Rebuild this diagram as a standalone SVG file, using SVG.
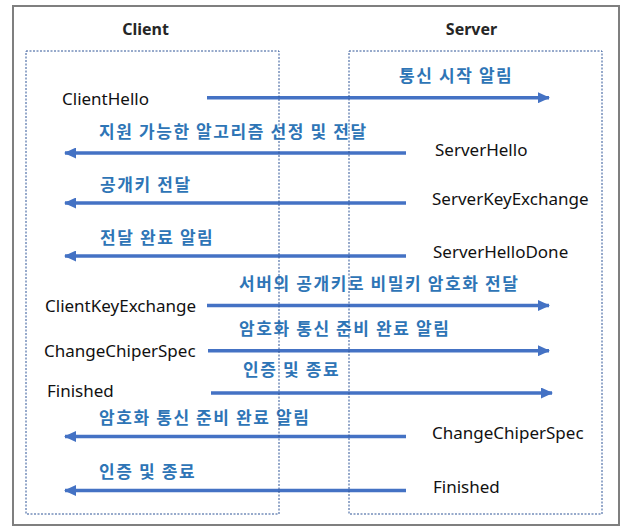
<svg xmlns="http://www.w3.org/2000/svg" width="634" height="530" viewBox="0 0 634 530">
<style>
.frame{fill:none;stroke:#7f7f7f;stroke-width:2}
.lane{fill:none;stroke:#2f5597;stroke-width:1;stroke-dasharray:2 1.5}
.hdr{font-family:"Noto Sans","Noto Sans CJK KR",sans-serif;font-size:16px;font-weight:bold;fill:#262626;text-anchor:middle}
.msg{font-family:"Noto Sans","Noto Sans CJK KR",sans-serif;font-size:17px;fill:#111111}
.lbl{font-family:"Noto Sans CJK KR","Noto Sans",sans-serif;font-size:17px;font-weight:bold;fill:#2e75b6;letter-spacing:1.6px}
.arr{fill:none;stroke:#4472c4;stroke-width:3.5;marker-end:url(#ah)}
</style>
<defs>
<marker id="ah" viewBox="0 0 12 11" refX="11" refY="5.5" markerWidth="12" markerHeight="11" markerUnits="userSpaceOnUse" orient="auto">
<path d="M0,0 L12,5.5 L0,11 Z" fill="#4472c4"/>
</marker>
</defs>
<rect width="634" height="530" fill="#ffffff"/>
<rect class="frame" x="13" y="6" width="606" height="519"/>
<g id="connectors">
<path class="arr" d="M207,97.7 H549"/>
<path class="arr" d="M406,153 H65"/>
<path class="arr" d="M406,203 H65"/>
<path class="arr" d="M406,256 H65"/>
<path class="arr" d="M207,305.5 H549"/>
<path class="arr" d="M208,350.7 H549"/>
<path class="arr" d="M211,393 H552"/>
<path class="arr" d="M406,436.5 H65"/>
<path class="arr" d="M406,490.5 H65"/>
<text class="lbl" x="399" y="81.5">통신 시작 알림</text>
<text class="lbl" x="99" y="138">지원 가능한 알고리즘 선정 및 전달</text>
<text class="lbl" x="100" y="190.5">공개키 전달</text>
<text class="lbl" x="100" y="243.5">전달 완료 알림</text>
<text class="lbl" x="239" y="290">서버의 공개키로 비밀키 암호화 전달</text>
<text class="lbl" x="239" y="335">암호화 통신 준비 완료 알림</text>
<text class="lbl" x="243" y="375.5">인증 및 종료</text>
<text class="lbl" x="99" y="424">암호화 통신 준비 완료 알림</text>
<text class="lbl" x="99" y="477.5">인증 및 종료</text>
</g>
<g id="client">
<text class="hdr" x="145.5" y="35">Client</text>
<rect class="lane" x="26" y="51" width="253" height="463"/>
</g>
<g id="server">
<text class="hdr" x="471.5" y="35">Server</text>
<rect class="lane" x="349" y="51" width="253" height="463"/>
</g>
<g id="client-hello"><text class="msg" x="62" y="105">ClientHello</text></g>
<g id="server-hello"><text class="msg" x="435" y="156">ServerHello</text></g>
<g id="server-key-exchange"><text class="msg" x="432" y="204.5">ServerKeyExchange</text></g>
<g id="server-hello-done"><text class="msg" x="433" y="258">ServerHelloDone</text></g>
<g id="client-key-exchange"><text class="msg" x="45" y="312">ClientKeyExchange</text></g>
<g id="client-change-cipher-spec"><text class="msg" x="44" y="356.5">ChangeChiperSpec</text></g>
<g id="client-finished"><text class="msg" x="47" y="396.5">Finished</text></g>
<g id="server-change-cipher-spec"><text class="msg" x="432" y="439">ChangeChiperSpec</text></g>
<g id="server-finished"><text class="msg" x="433" y="493">Finished</text></g>
</svg>
